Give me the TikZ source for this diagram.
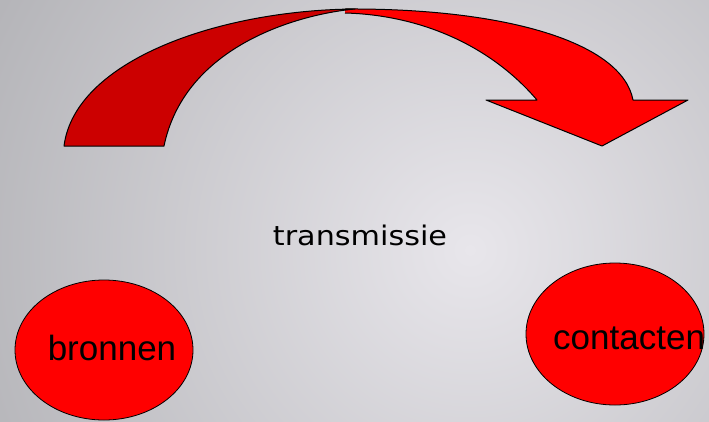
\documentclass[tikz,border=0pt]{standalone}
\usepackage{fontspec}
\setmainfont{Liberation Sans}
\newfontfamily\handfont{DejaVu Sans}
\usetikzlibrary{shapes.geometric}
\definecolor{bgin}{RGB}{232,230,235}
\definecolor{bgout}{RGB}{178,178,182}
\definecolor{darkred}{RGB}{204,0,0}
\definecolor{brightred}{RGB}{255,0,0}
\tikzset{
  arrowpart/.style={draw=black, line width=1pt, line join=round},
  blob/.style={ellipse, draw=black, line width=0.8pt, fill=brightred, inner sep=0pt},
  blobtext/.style={font=\fontsize{35}{40}\selectfont, text=black},
}
\begin{document}
\begin{tikzpicture}[x=1pt,y=-1pt]
\useasboundingbox (0,0) rectangle (709,421);
\begin{scope}
\clip (0,0) rectangle (709,421);
\shade[inner color=bgin, outer color=bgout] (470,250) circle (560);
\end{scope}
% right (bright) part of the curved arrow
\fill[brightred] (345,9) .. controls (505,8) and (622,42) .. (633,100)
  -- (688,100) -- (602,146) -- (486,100) -- (537,100)
  .. controls (490,45) and (420,15) .. (345,13) -- cycle;
\draw[arrowpart] (345,9) .. controls (505,8) and (622,42) .. (633,100)
  -- (688,100) -- (602,146) -- (486,100) -- (537,100)
  .. controls (490,45) and (420,15) .. (345,13);
% left (dark) part of the curved arrow
\draw[arrowpart, fill=darkred] (64,146) .. controls (75,60) and (220,10) .. (355,9)
  .. controls (300,14) and (185,45) .. (164,146) -- cycle;
% texts and ellipses
\node[font=\handfont\fontsize{27}{30}\selectfont, text=black, anchor=base] (trans) at (360,245) {\scalebox{1.12}[1]{transmissie}};
\node[blob, minimum width=178pt, minimum height=140pt] (bron) at (104,350) {};
\node[blobtext, anchor=base] (bront) at (112,360) {bronnen};
\node[blob, minimum width=178pt, minimum height=142pt] (cont) at (615,334) {};
\node[blobtext, anchor=base west, inner sep=0pt] (contt) at (553,349) {contacten};
\end{tikzpicture}
\end{document}
